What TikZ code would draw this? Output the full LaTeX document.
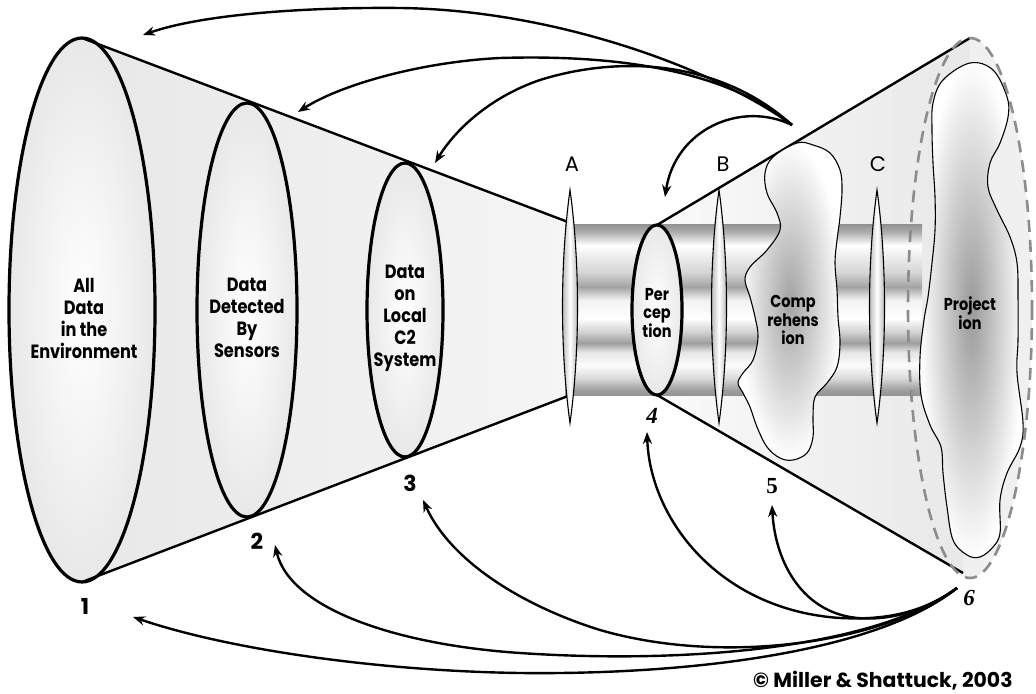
\documentclass[tikz,border=0pt]{standalone}
\usepackage{fontspec}
\newfontfamily\fut[FakeStretch=0.84]{Poppins}
\newfontfamily\futr{Poppins}
\newfontfamily\tim{Liberation Serif}
\usetikzlibrary{arrows.meta}
\colorlet{tA}{black!42}
\colorlet{tB}{black!38}
\colorlet{tC}{black!14}
\colorlet{tD}{black!1}
\colorlet{tE}{black!10}
\colorlet{tF}{black!38}
\colorlet{tG}{black!18}
\colorlet{tH}{black!0}
\colorlet{tI}{black!5}
\colorlet{tJ}{black!36}
\colorlet{tK}{black!16}
\colorlet{tL}{black!8}
\colorlet{tM}{black!0}
\colorlet{tN}{black!32}
\colorlet{tO}{black!42}
\pgfdeclareverticalshading{tube}{100bp}{color(0bp)=(tA);color(25bp)=(tA);color(26.5bp)=(tB);color(30bp)=(tC);color(33.8bp)=(tD);color(37.6bp)=(tE);color(40.3bp)=(tF);color(43.5bp)=(tG);color(47.6bp)=(tH);color(52.9bp)=(tI);color(56.8bp)=(tJ);color(61.2bp)=(tK);color(65.3bp)=(tL);color(69.1bp)=(tM);color(72.9bp)=(tN);color(75bp)=(tO);color(100bp)=(tO)}
\begin{document}
\begin{tikzpicture}[x=0.5pt,y=-0.5pt,
  outl/.style={line width=1.6pt},
  coneline/.style={line width=1.2pt},
  thinl/.style={line width=0.55pt},
  arr/.style={line width=1.2pt,-{Stealth[length=6pt,width=4.6pt]}},
  lab/.style={font=\fut\bfseries\fontsize{9.6}{11}\selectfont, align=center, inner sep=0pt},
  labs/.style={font=\fut\bfseries\fontsize{8.6}{9.2}\selectfont, align=center, inner sep=0pt},
  letr/.style={font=\futr\fontsize{10.5}{12}\selectfont, inner sep=0pt},
  numr/.style={font=\futr\bfseries\fontsize{11}{12}\selectfont, inner sep=0pt},
  numt/.style={font=\tim\bfseries\fontsize{11.5}{12}\selectfont, inner sep=0pt},
  numti/.style={font=\tim\bfseries\itshape\fontsize{11.5}{12}\selectfont, inner sep=0pt},
  ellfill/.style={inner color=white, outer color=black!9},
  lensfill/.style={left color=black!35, right color=black!35, middle color=white}
]
\useasboundingbox (0,0) rectangle (1036,694);
\fill[white] (0,0) rectangle (1036,694);

% left cone fill
\shade[left color=black!9, right color=black!4] (82,38) -- (568,222) -- (568,396) -- (82,582) -- cycle;
% right cone fill
\fill[black!6] (970,308) ellipse [x radius=62, y radius=270];
\shade[left color=black!2, right color=black!9] (657,225) -- (970,38) -- (963,573) -- (657,395) -- cycle;

% tube
\shade[shading=tube] (565,225) rectangle (922,395);

% ellipses 1-3
\shade[ellfill] (82,310) ellipse [x radius=73, y radius=272];
\draw[outl] (82,310) ellipse [x radius=73, y radius=272];
\shade[ellfill] (247,310) ellipse [x radius=50, y radius=207];
\draw[outl] (247,310) ellipse [x radius=50, y radius=207];
\shade[ellfill] (405,310) ellipse [x radius=38, y radius=147];
\draw[outl] (405,310) ellipse [x radius=38, y radius=147];

% cone lines
\draw[coneline] (82,38) -- (568,222);
\draw[coneline] (82,582) -- (568,396);

% lenses
\foreach \x in {570,719,877}{
  \shade[lensfill] (\x,190) .. controls (\x+10,262) and (\x+10,351) .. (\x,423) .. controls (\x-10,351) and (\x-10,262) .. (\x,190) -- cycle;
  \draw[thinl] (\x,190) .. controls (\x+10,262) and (\x+10,351) .. (\x,423) .. controls (\x-10,351) and (\x-10,262) .. (\x,190) -- cycle;
}

% perception ellipse
\shade[ellfill] (657,310) ellipse [x radius=25, y radius=85];
\draw[outl] (657,310) ellipse [x radius=25, y radius=85];

% right cone lines
\draw[coneline] (657,225) -- (970,38);
\draw[coneline] (657,395) -- (963,573);

% comprehension blob
\shade[inner color=black!36, outer color=white, draw, thinl] plot[smooth cycle, tension=0.6] coordinates {(797,143) (813,145) (830,153) (840,170) (842,190) (840,217) (837,240) (835,263) (837,290) (838,317) (840,343) (837,367) (827,383) (815,397) (813,417) (813,437) (807,453) (793,460) (780,458) (767,447) (757,427) (750,407) (743,393) (738,383) (743,373) (753,360) (758,337) (755,317) (750,297) (745,280) (750,267) (767,250) (780,230) (777,213) (767,193) (765,173) (773,157)};

% projection blob
\shade[inner color=black!40, outer color=white, draw, thinl] plot[smooth cycle, tension=0.6] coordinates {(970,63) (993,70) (1007,97) (1008,117) (1000,143) (990,163) (988,187) (997,210) (1010,237) (1017,263) (1018,297) (1018,340) (1017,373) (1023,423) (1020,447) (1007,473) (1000,500) (1000,533) (993,547) (980,557) (967,555) (953,540) (947,507) (943,473) (941,447) (930,425) (921,395) (920,357) (924,320) (928,297) (932,263) (935,230) (935,197) (933,163) (932,130) (933,103) (943,80)};

% dashed ellipse
\draw[black!45, line width=1.3pt, dash pattern=on 6pt off 4pt] (970,308) ellipse [x radius=62, y radius=270];

% texts
\node[lab] (t1) at (84,318) {All\\Data\\in the\\Environment};
\node[lab] (t2) at (247,318) {Data\\Detected\\By\\Sensors};
\node[lab] (t3) at (405,318) {Data\\on\\Local\\C2\\System};
\node[labs] (tp) at (657,313) {Per\\cep\\tion};
\node[labs] (tc) at (793,320) {Comp\\rehens\\ion};
\node[labs] (tj) at (970,313) {Project\\ion};

\node[letr] (lA) at (572,164) {A};
\node[letr] (lB) at (723,164) {B};
\node[letr] (lC) at (878,164) {C};

\node[numr] (n1) at (85,606) {1};
\node[numr] (n2) at (257,541) {2};
\node[numr] (n3) at (410,483) {3};
\node[numti] (n4) at (652,416) {4};
\node[numt] (n5) at (772,486) {5};
\node[numti] (n6) at (969,598) {6};

\node[font=\futr\bfseries\fontsize{10.2}{11}\selectfont, anchor=east, inner sep=0pt] (copy) at (1013,681) {© Miller \& Shattuck, 2003};

% arrow endpoints
\coordinate (sT) at (792,125);
\coordinate (a1) at (143,35);
\coordinate (a2) at (298,112);
\coordinate (a3) at (435,163);
\coordinate (aP) at (665,197);
\coordinate (s6) at (957,588);
\coordinate (b1) at (133,617);
\coordinate (b2) at (275,545);
\coordinate (b3) at (423,500);
\coordinate (b4) at (647,432);
\coordinate (b5) at (772,505);

% top arrows
\draw[arr] (sT) .. controls (720,72) and (560,10) .. (400,8) .. controls (300,7) and (200,15) .. (a1);
\draw[arr] (sT) .. controls (720,65) and (600,55) .. (500,58) .. controls (420,62) and (340,85) .. (a2);
\draw[arr] (sT) .. controls (720,60) and (620,55) .. (540,80) .. controls (490,97) and (455,130) .. (a3);
\draw[arr] (sT) .. controls (740,100) and (675,130) .. (aP);

% bottom arrows
\draw[arr] (s6) .. controls (880,650) and (700,675) .. (520,673) .. controls (380,671) and (230,650) .. (b1);
\draw[arr] (s6) .. controls (880,645) and (700,665) .. (520,653) .. controls (400,645) and (290,610) .. (b2);
\draw[arr] (s6) .. controls (880,645) and (720,665) .. (600,630) .. controls (520,605) and (450,560) .. (b3);
\draw[arr] (s6) .. controls (920,615) and (880,620) .. (840,618) .. controls (720,610) and (650,520) .. (b4);
\draw[arr] (s6) .. controls (920,615) and (880,622) .. (850,617) .. controls (800,608) and (775,560) .. (b5);
\end{tikzpicture}
\end{document}
